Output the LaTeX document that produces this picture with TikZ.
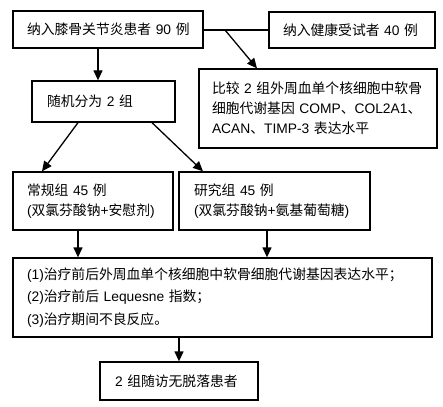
\documentclass[tikz,border=0pt]{standalone}
\usepackage{fontspec}
\setmainfont{Liberation Sans}
\newfontfamily\cjk{Noto Sans CJK SC}
\newcommand{\zh}[1]{{\cjk #1}}
\usetikzlibrary{arrows.meta}
\begin{document}
\begin{tikzpicture}[x=1pt,y=-1pt,
  box/.style={draw, line width=1.3pt, inner ysep=0pt, align=left,
    font=\fontsize{13.8}{20}\selectfont},
  arr/.style={line width=1.3pt, -{Triangle[length=10pt,width=9pt]}},
  ln/.style={line width=1.3pt}]
\useasboundingbox (0,0) rectangle (443,406);
\node[box, minimum width=190pt, minimum height=37pt, text width=166pt, inner xsep=12pt] (b1) at (108,29.5) {\hspace{2pt}\zh{纳入膝骨关节炎患者}~90~\zh{例}};
\node[box, minimum width=166pt, minimum height=36pt, text width=138pt, inner xsep=14pt] (b2) at (352,30) {\zh{纳入健康受试者}~40~\zh{例}};
\node[box, minimum width=238pt, minimum height=79pt, text width=212pt, inner xsep=13pt] (b3) at (318,108.5) {\zh{比较} 2 \zh{组外周血单个核细胞中软骨}\\\zh{细胞代谢基因} COMP\zh{、}COL2A1\zh{、}\\ACAN\zh{、}TIMP-3 \zh{表达水平}};
\node[box, minimum width=143pt, minimum height=41pt, text width=113pt, inner xsep=15pt] (b4) at (103.5,101.5) {\zh{随机分为} 2 \zh{组}};
\node[box, minimum width=160pt, minimum height=58pt, text width=132pt, inner xsep=14pt] (b5) at (93,201) {\zh{常规组} 45 \zh{例}\\(\zh{双氯芬酸钠}+\zh{安慰剂})};
\node[box, minimum width=191pt, minimum height=58pt, text width=161pt, inner xsep=15pt] (b6) at (274.5,201) {\zh{研究组} 45 \zh{例}\\(\zh{双氯芬酸钠}+\zh{氨基葡萄糖})};
\node[box, minimum width=419pt, minimum height=79pt, text width=391pt, inner xsep=14pt, font=\fontsize{13.8}{22.5}\selectfont] (b7) at (222.5,297.5) {(1)\zh{治疗前后外周血单个核细胞中软骨细胞代谢基因表达水平；}\\(2)\zh{治疗前后} Lequesne \zh{指数；}\\(3)\zh{治疗期间不良反应。}};
\node[box, minimum width=158pt, minimum height=38pt, text width=128pt, inner xsep=15pt] (b8) at (179,381) {2 \zh{组随访无脱落患者}};
\coordinate (j) at (225,30);
\draw[ln] (b1.east |- j) -- (b2.west |- j);
\draw[arr] (j) -- ([xshift=-61pt]b3.north);
\draw[arr] ([xshift=-10pt]b1.south) -- ([xshift=-10pt]b1.south |- b4.north);
\draw[arr] ([xshift=-25.5pt]b4.south) -- ([xshift=-51pt]b5.north);
\draw[arr] ([xshift=48.5pt]b4.south) -- ([xshift=-71.5pt]b6.north);
\draw[arr] ([xshift=-15pt]b5.south) -- ([xshift=-15pt]b5.south |- b7.north);
\draw[arr] ([xshift=-7.5pt]b6.south) -- ([xshift=-7.5pt]b6.south |- b7.north);
\draw[arr] (b7.south -| b8.north) -- (b8.north);
\end{tikzpicture}
\end{document}
